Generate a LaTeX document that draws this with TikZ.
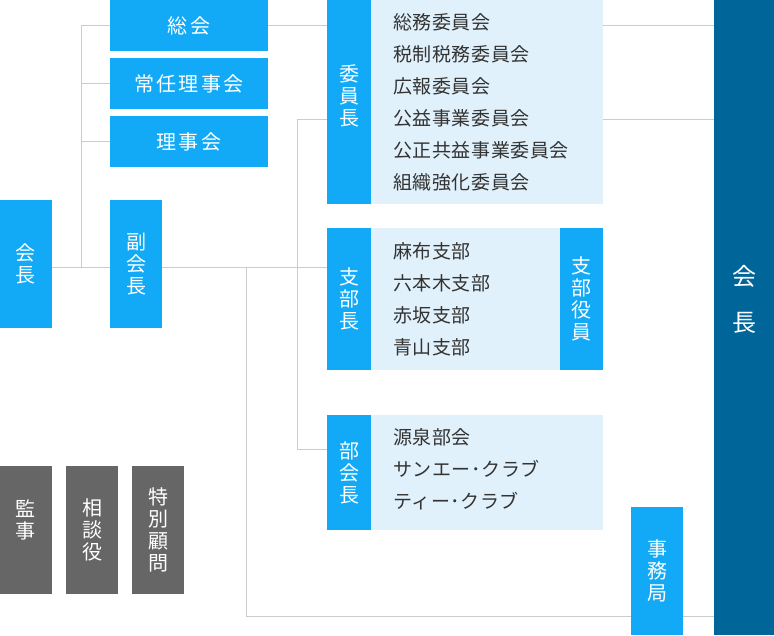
\documentclass[tikz,border=0pt]{standalone}
\usepackage{fontspec}
\newfontfamily\jpw{Noto Sans CJK JP}[LetterSpace=12]
\newfontfamily\jpl{Noto Sans CJK JP}[LetterSpace=3]
\newfontfamily\jpv{Noto Sans CJK JP}
\definecolor{cBlue}{HTML}{12AAF6}
\definecolor{cLight}{HTML}{E1F1FB}
\definecolor{cDark}{HTML}{006699}
\definecolor{cGray}{HTML}{666666}
\definecolor{cLine}{HTML}{CCCCCC}
\definecolor{cText}{HTML}{333333}
\pgfdeclarelayer{background}
\pgfsetlayers{background,main}
\tikzset{
  box/.style={anchor=north west, inner sep=0pt, outer sep=0pt, align=center},
  bluebox/.style={box, fill=cBlue, text=white},
  graybox/.style={box, fill=cGray, text=white},
  lightbox/.style={box, fill=cLight},
  darkbox/.style={box, fill=cDark, text=white},
  hlabel/.style={font=\jpw\fontsize{20}{24}\selectfont},
  vlabel/.style={font=\jpv\fontsize{20}{22}\selectfont},
  biglabel/.style={font=\jpv\fontsize{24}{46}\selectfont},
  inlabel/.style={inner sep=0pt, align=center, text=white},
  listtext/.style={anchor=base west, align=left, inner sep=0pt, text=cText, font=\jpl\fontsize{19}{32}\selectfont},
  conn/.style={draw=cLine, line width=1pt},
}
\begin{document}
\begin{tikzpicture}[x=1pt,y=-1pt]
\useasboundingbox (0,0) rectangle (774,635);
% left column
\node[bluebox, vlabel, minimum width=52pt, minimum height=128pt] (kaichoL) at (0,200) {会\\長};
\node[bluebox, hlabel, minimum width=158pt, minimum height=51pt] (sokai) at (110,0) {総会};
\node[bluebox, hlabel, minimum width=158pt, minimum height=51pt] (joninriji) at (110,58) {常任理事会};
\node[bluebox, hlabel, minimum width=158pt, minimum height=51pt] (rijikai) at (110,116) {理事会};
\node[bluebox, vlabel, minimum width=52pt, minimum height=128pt, yshift=0pt] (fuku) at (110,200) {副\\会\\長};
% gray
\node[graybox, vlabel, minimum width=52pt, minimum height=128pt] (kanji) at (0,466) {監\\事\\\mbox{}};
\node[graybox, vlabel, minimum width=52pt, minimum height=128pt] (sodanyaku) at (66,466) {相\\談\\役};
\node[graybox, vlabel, minimum width=52pt, minimum height=128pt] (tokubetsu) at (132,466) {特\\別\\顧\\問};
% committees
\node[lightbox, minimum width=232pt, minimum height=204pt] (iinList) at (371,0) {};
\node[bluebox, minimum width=44pt, minimum height=204pt,
  label={[inlabel, vlabel, yshift=6pt]center:委\\員\\長}] (iincho) at (327,0) {};
\node[listtext] (iinText) at (393,189) {総務委員会\\税制税務委員会\\広報委員会\\公益事業委員会\\公正共益事業委員会\\組織強化委員会};
% branches
\node[lightbox, minimum width=189pt, minimum height=142pt] (shibuList) at (371,228) {};
\node[bluebox, vlabel, minimum width=44pt, minimum height=142pt] (shibucho) at (327,228) {支\\部\\長};
\node[bluebox, vlabel, minimum width=43pt, minimum height=142pt] (shibuyakuin) at (560,228) {支\\部\\役\\員};
\node[listtext] (shibuText) at (393,354) {麻布支部\\六本木支部\\赤坂支部\\青山支部};
% clubs
\node[lightbox, minimum width=232pt, minimum height=115pt] (bukaiList) at (371,415) {};
\node[bluebox, vlabel, minimum width=44pt, minimum height=115pt] (bukaicho) at (327,415) {部\\会\\長};
\node[listtext] (bukaiText) at (393,508) {源泉部会\\サンエー･クラブ\\ティー･クラブ};
% right
\node[darkbox, minimum width=60pt, minimum height=635pt,
  label={[inlabel, biglabel, yshift=18pt]center:会\\長}] (kaichoR) at (714,0) {};
\node[bluebox, vlabel, minimum width=52pt, minimum height=128pt] (jimukyoku) at (631,507) {事\\務\\局};
% connectors
\coordinate (jL) at (81,267);
\coordinate (jB) at (297,119);
\coordinate (jC) at (297,449);
\coordinate (jD) at (246,616);
\begin{pgfonlayer}{background}
\draw[conn] (kaichoL.east |- jL) -- (fuku.west |- jL);
\draw[conn] (sokai.west -| jL) -- (jL);
\draw[conn] (sokai.west -| jL) -- (sokai.west);
\draw[conn] (joninriji.west -| jL) -- (joninriji.west);
\draw[conn] (rijikai.west -| jL) -- (rijikai.west);
\draw[conn] (sokai.east) -- (sokai.east -| iincho.west);
\draw[conn] (iinList.east |- sokai.east) -- (kaichoR.west |- sokai.east);
\draw[conn] (jB) -- (jB -| iincho.west);
\draw[conn] (iinList.east |- jB) -- (kaichoR.west |- jB);
\draw[conn] (fuku.east |- jL) -- (shibucho.west |- jL);
\draw[conn] (jB) -- (jC) -- (jC -| bukaicho.west);
\draw[conn] (jD |- jL) -- (jD) -- (jD -| kaichoR.west);
\end{pgfonlayer}
\end{tikzpicture}
\end{document}
